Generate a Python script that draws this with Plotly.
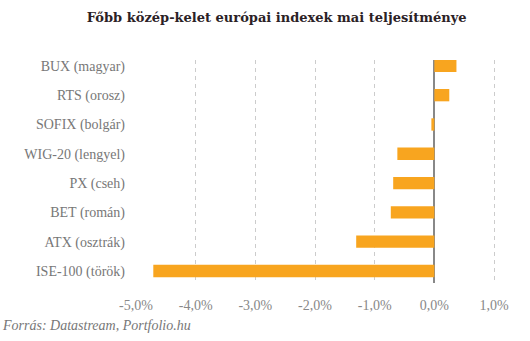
import plotly.graph_objects as go

categories = ["BUX (magyar)", "RTS (orosz)", "SOFIX (bolgár)", "WIG-20 (lengyel)",
              "PX (cseh)", "BET (román)", "ATX (osztrák)", "ISE-100 (török)"]
values = [0.37, 0.25, -0.05, -0.62, -0.69, -0.73, -1.31, -4.71]
tick_vals = [-5, -4, -3, -2, -1, 0, 1]
tick_text = ["-5,0%", "-4,0%", "-3,0%", "-2,0%", "-1,0%", "0,0%", "1,0%"]

fig = go.Figure(go.Bar(
    y=categories, x=values, orientation="h",
    marker=dict(color="#F8A51F", line=dict(width=0)),
    width=0.42,
))

fig.update_layout(
    width=530, height=341,
    margin=dict(l=136, r=30, t=60, b=58),
    paper_bgcolor="white", plot_bgcolor="white",
    showlegend=False,
    font=dict(family="Liberation Serif", color="#777777", size=14),
    title=dict(text="<b>Főbb közép-kelet európai indexek mai teljesítménye</b>",
               x=0.522, xanchor="center", y=0.95, yanchor="middle",
               font=dict(family="DejaVu Serif", size=13, color="#2b2125")),
    xaxis=dict(range=[-5.0, 1.1], tickvals=tick_vals, ticktext=tick_text,
               showgrid=True, gridcolor="#cccccc", griddash="4px,4px", gridwidth=1,
               zeroline=True, zerolinecolor="#888888", zerolinewidth=2,
               showline=False, ticks="", ticklabelstandoff=12,
               tickfont=dict(size=14, color="#888888")),
    yaxis=dict(range=[7.41, -0.2], showgrid=False, zeroline=False, showline=False,
               ticks="", ticklabelstandoff=10,
               tickfont=dict(size=14, color="#777777")),
)

fig.add_annotation(text="<i>Forrás: Datastream, Portfolio.hu</i>",
                   xref="paper", yref="paper", x=-136/364, y=-42/223,
                   xanchor="left", yanchor="middle", showarrow=False,
                   font=dict(family="Liberation Serif", size=14, color="#777777"))

fig.write_html("out.html")
